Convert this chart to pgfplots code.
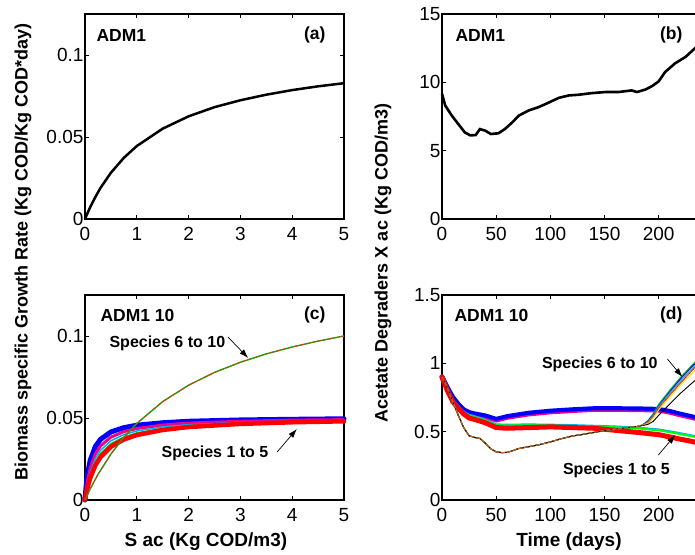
\documentclass[border=0pt]{standalone}
\usepackage{fontspec}
\setmainfont{Liberation Sans}
\usepackage{pgfplots}
\pgfplotsset{compat=1.18}
\usepackage{pgfplotstable}
\usetikzlibrary{arrows.meta}

% panel (c): species 1 to 5, Monod curves
\pgfplotstableread{
S    blue   mag    cyan   green  red
0    0      0      0      0      0
0.02 0.0078 0.0056 0.0046 0.0040 0.0034
0.05 0.0158 0.0120 0.0101 0.0089 0.0077
0.1  0.0241 0.0195 0.0168 0.0150 0.0133
0.2  0.0326 0.0281 0.0253 0.0232 0.0211
0.3  0.0370 0.0330 0.0303 0.0283 0.0262
0.5  0.0415 0.0383 0.0361 0.0343 0.0325
0.75 0.0441 0.0417 0.0399 0.0384 0.0369
1    0.0456 0.0436 0.0421 0.0409 0.0396
1.5  0.0471 0.0457 0.0446 0.0437 0.0427
2    0.0480 0.0469 0.0459 0.0452 0.0445
3    0.0488 0.0480 0.0473 0.0469 0.0464
4    0.0492 0.0487 0.0481 0.0478 0.0474
5    0.0495 0.0490 0.0486 0.0483 0.0480
}\cA

% panel (d): species 1 to 5
\pgfplotstableread{
t   blue  mag   cyan  green red
0   0.90  0.89  0.90  0.895 0.90
5   0.82  0.805 0.81  0.805 0.80
10  0.75  0.735 0.74  0.733 0.72
15  0.70  0.685 0.69  0.683 0.67
20  0.66  0.645 0.65  0.643 0.63
25  0.64  0.625 0.625 0.617 0.60
30  0.63  0.612 0.615 0.607 0.59
40  0.615 0.597 0.59  0.582 0.565
50  0.59  0.572 0.555 0.547 0.53
60  0.61  0.592 0.553 0.545 0.525
80  0.635 0.617 0.555 0.547 0.53
100 0.65  0.632 0.553 0.545 0.535
120 0.66  0.642 0.55  0.542 0.53
140 0.668 0.65  0.545 0.537 0.525
160 0.668 0.65  0.54  0.532 0.51
180 0.667 0.649 0.532 0.524 0.495
200 0.663 0.645 0.518 0.51  0.478
210 0.648 0.63  0.505 0.497 0.462
220 0.628 0.61  0.49  0.482 0.445
230 0.61  0.592 0.475 0.467 0.43
240 0.59  0.572 0.46  0.452 0.41
}\dA

% panel (d): species 6 to 10
\pgfplotstableread{
t   g     b     c     r     y     k
0   0.90  0.90  0.90  0.90  0.90  0.90
5   0.82  0.82  0.82  0.82  0.82  0.82
10  0.72  0.72  0.72  0.72  0.72  0.72
15  0.62  0.62  0.62  0.62  0.62  0.62
20  0.53  0.53  0.53  0.53  0.53  0.53
25  0.47  0.47  0.47  0.47  0.47  0.47
30  0.458 0.458 0.458 0.458 0.458 0.458
35  0.45  0.45  0.45  0.45  0.45  0.45
40  0.415 0.415 0.415 0.415 0.415 0.415
45  0.375 0.375 0.375 0.375 0.375 0.375
50  0.352 0.352 0.352 0.352 0.352 0.352
55  0.347 0.347 0.347 0.347 0.347 0.347
60  0.348 0.348 0.348 0.348 0.348 0.348
65  0.36  0.36  0.36  0.36  0.36  0.36
70  0.375 0.375 0.375 0.375 0.375 0.375
80  0.39  0.39  0.39  0.39  0.39  0.39
90  0.405 0.405 0.405 0.405 0.405 0.405
100 0.425 0.425 0.425 0.425 0.425 0.425
110 0.448 0.448 0.448 0.448 0.448 0.448
120 0.468 0.468 0.468 0.468 0.468 0.468
130 0.48  0.48  0.48  0.48  0.48  0.48
140 0.494 0.494 0.494 0.494 0.494 0.494
150 0.508 0.508 0.508 0.508 0.508 0.508
160 0.518 0.518 0.518 0.518 0.518 0.518
170 0.528 0.528 0.528 0.528 0.528 0.528
180 0.538 0.538 0.538 0.538 0.538 0.538
185 0.548 0.548 0.548 0.548 0.548 0.545
190 0.58  0.575 0.57  0.565 0.56  0.553
195 0.63  0.625 0.62  0.61  0.60  0.575
200 0.70  0.69  0.685 0.675 0.66  0.62
210 0.80  0.79  0.78  0.765 0.75  0.70
220 0.895 0.885 0.87  0.855 0.84  0.78
230 0.98  0.97  0.955 0.94  0.92  0.85
240 1.06  1.05  1.035 1.02  1.00  0.92
}\dB

\newcommand\tk{\fontsize{19}{22}\selectfont}
\newcommand\lb{\bfseries\fontsize{18}{21}\selectfont}
\newcommand\xl{\bfseries\fontsize{19}{22}\selectfont}
\newcommand\nt{\bfseries\fontsize{17.5}{20}\selectfont}
\newcommand\spc{\bfseries\fontsize{16}{19}\selectfont}

\pgfplotsset{
  panel/.style={scale only axis, height=205pt, anchor=south west,
    axis line style={line width=1.1pt}, tick align=inside, major tick length=4pt,
    every tick/.style={black, line width=0.9pt},
    tick label style={font=\tk},
    xticklabel style={yshift=-5pt},
    yticklabel style={xshift=2pt},
    clip=false},
  mu/.style={panel, width=259pt, xmin=0, xmax=5, ymin=0, ymax=0.125,
    xtick={0,1,2,3,4,5}, xticklabels={0,1,2,3,4,5},
    ytick={0,0.05,0.1}, yticklabels={0,0.05,0.1}},
  tm/.style={panel, width=260pt, xmin=0, xmax=240,
    xtick={0,50,100,150,200}, xticklabels={0,50,100,150,200}},
}

\begin{document}
\begin{tikzpicture}[x=1pt,y=1pt]
\useasboundingbox (0,0) rectangle (695,554);
\clip (0,0) rectangle (695,554);

% (a)
\begin{axis}[mu, at={(85pt,335pt)}]
\addplot[black, line width=2.5pt] coordinates {
(0,0) (0.05,0.0037) (0.1,0.0072) (0.2,0.0134) (0.3,0.0190) (0.5,0.0282)
(0.75,0.0373) (1,0.0445) (1.5,0.0551) (2,0.0626) (2.5,0.0682) (3,0.0724)
(3.5,0.0758) (4,0.0786) (4.5,0.0809) (5,0.0828)};
\end{axis}

% (b)
\begin{axis}[tm, at={(442pt,335pt)}, ymin=0, ymax=15,
  ytick={0,5,10,15}, yticklabels={0,5,10,15}]
\addplot[black, line width=2.6pt] coordinates {
(0,9.16) (3,8.3) (9,7.57) (15,6.95) (21,6.34) (26,6.12) (31,6.14) (35,6.58)
(40,6.46) (45,6.22) (52,6.27) (58,6.58) (65,7.08) (71,7.57) (80,7.94)
(89,8.18) (98,8.5) (108,8.87) (117,9.04) (126,9.09) (138,9.21) (151,9.29)
(163,9.29) (175,9.41) (180,9.29) (188,9.48) (194,9.73) (200,10.07)
(206,10.76) (215,11.38) (225,11.87) (234,12.53) (240,12.9)};
\end{axis}

% (c)
\begin{axis}[mu, at={(85pt,54pt)}]
\addplot[blue, line width=5pt, line cap=round] table[x=S,y=blue] {\cA};
\addplot[magenta, line width=3pt] table[x=S,y=mag] {\cA};
\addplot[cyan, line width=1.5pt] table[x=S,y=cyan] {\cA};
\addplot[green!80!black, line width=1.5pt] table[x=S,y=green] {\cA};
\addplot[red, line width=4.5pt, line cap=round] table[x=S,y=red] {\cA};
\addplot[green!70!black, line width=1.4pt] coordinates {
(0,0) (0.1,0.0067) (0.25,0.0156) (0.5,0.028) (0.75,0.0382) (1,0.0467)
(1.5,0.06) (2,0.07) (2.5,0.0778) (3,0.084) (3.5,0.0891) (4,0.0933)
(4.5,0.0969) (5,0.1)};
\addplot[red!60!brown, line width=0.9pt, dash pattern=on 4pt off 2pt] coordinates {
(0,0) (0.1,0.0067) (0.25,0.0156) (0.5,0.028) (0.75,0.0382) (1,0.0467)
(1.5,0.06) (2,0.07) (2.5,0.0778) (3,0.084) (3.5,0.0891) (4,0.0933)
(4.5,0.0969) (5,0.1)};
\node[font=\spc] at (axis cs:1.59,0.0957) {Species 6 to 10};
\draw[-{Latex[length=9pt,width=6pt]}, line width=0.7pt] (axis cs:2.76,0.0994) -- (axis cs:3.15,0.0866);
\node[font=\spc] at (axis cs:2.51,0.0287) {Species 1 to 5};
\draw[-{Latex[length=9pt,width=6pt]}, line width=0.7pt] (axis cs:3.71,0.0293) -- (axis cs:4.09,0.0433);
\end{axis}

% (d)
\begin{axis}[tm, at={(442pt,54pt)}, ymin=0, ymax=1.5,
  ytick={0,0.5,1,1.5}, yticklabels={0,0.5,1,1.5}]
\addplot[blue, line width=5pt, line cap=round] table[x=t,y=blue] {\dA};
\addplot[magenta, line width=1.5pt] table[x=t,y=mag] {\dA};
\addplot[cyan, line width=1.5pt] table[x=t,y=cyan] {\dA};
\addplot[green, line width=2pt] table[x=t,y=green] {\dA};
\addplot[red, line width=5pt, line cap=round] table[x=t,y=red] {\dA};
\addplot[green!80!black, line width=1.2pt] table[x=t,y=g] {\dB};
\addplot[blue, line width=1pt] table[x=t,y=b] {\dB};
\addplot[cyan, line width=1pt] table[x=t,y=c] {\dB};
\addplot[red, line width=1pt] table[x=t,y=r] {\dB};
\addplot[yellow!90!orange, line width=1pt] table[x=t,y=y] {\dB};
\addplot[black, line width=0.9pt] table[x=t,y=k] {\dB};
\addplot[brown!80!red, line width=0.9pt, dash pattern=on 4pt off 2pt] table[x=t,y=r] {\dB};
\node[font=\spc] at (axis cs:145.7,0.995) {Species 6 to 10};
\draw[-{Latex[length=9pt,width=6pt]}, line width=0.7pt] (axis cs:208,1.032) -- (axis cs:221.9,0.9);
\node[font=\spc] at (axis cs:161,0.22) {Species 1 to 5};
\draw[-{Latex[length=9pt,width=6pt]}, line width=0.7pt] (axis cs:199.7,0.329) -- (axis cs:215.4,0.476);
\end{axis}

% panel texts
\node[font=\nt, anchor=west] at (93,519) {ADM1};
\node[font=\nt, anchor=east] at (329,519) {(a)};
\node[font=\nt, anchor=west] at (452,519) {ADM1};
\node[font=\nt, anchor=east] at (686,519) {(b)};
\node[font=\nt, anchor=west] at (97,239) {ADM1 10};
\node[font=\nt, anchor=east] at (329,239) {(c)};
\node[font=\nt, anchor=west] at (451,239) {ADM1 10};
\node[font=\nt, anchor=east] at (686,239) {(d)};

% axis labels
\node[font=\lb, rotate=90] at (23,302) {Biomass specific Growth Rate (Kg COD/Kg COD*day)};
\node[font=\lb, rotate=90] at (383,291) {Acetate Degraders X ac (Kg COD/m3)};
\node[font=\xl] at (206,12) {S ac (Kg COD/m3)};
\node[font=\xl] at (569,12) {Time (days)};
\end{tikzpicture}
\end{document}
